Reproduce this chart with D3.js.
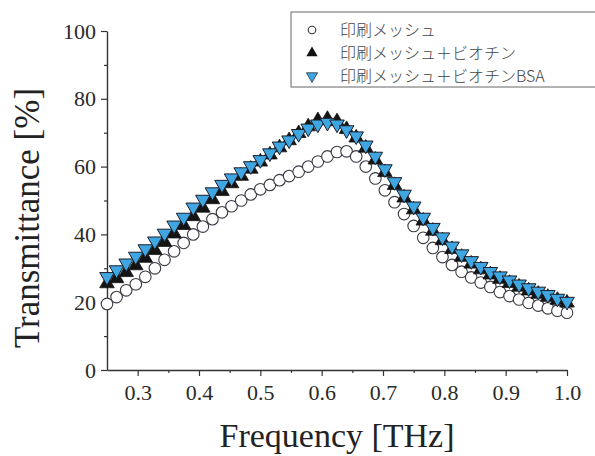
<!DOCTYPE html>
<html><head><meta charset="utf-8">
<script src="https://cdn.jsdelivr.net/npm/d3@7"></script>
<style>
html,body{margin:0;padding:0;background:#fff;}
svg{display:block;}
</style></head>
<body>
<svg id="chart" width="595" height="456"></svg>
<script>
const freq = [0.25,0.2656,0.2813,0.2969,0.3125,0.3281,0.3438,0.3594,0.375,0.3906,0.4063,0.4219,0.4375,0.4531,0.4688,0.4844,0.5,0.5156,0.5313,0.5469,0.5625,0.5781,0.5938,0.6094,0.625,0.6406,0.6563,0.6719,0.6875,0.7031,0.7188,0.7344,0.75,0.7656,0.7813,0.7969,0.8125,0.8281,0.8438,0.8594,0.875,0.8906,0.9063,0.9219,0.9375,0.9531,0.9688,0.9844,1.0];
const meshValues = [19.5,21.5,23.5,25.3,27.5,30,32.5,35,37.5,40,42.3,44.5,46.5,48.3,50,51.8,53.3,54.6,56,57.2,58.5,60,61.5,63,64.3,64.5,63,60,56.5,53,49.5,46,42.5,39,36,33.3,31,29,27.3,25.8,24.5,23,21.8,20.8,19.8,19,18.2,17.5,16.9];
const biotinValues = [25.5,27,28.8,30.8,33,35.3,37.7,40.2,42.7,45.3,47.8,50.3,52.7,55,57.2,59.3,61.4,63.5,65.6,67.7,69.8,71.8,73.6,74,73.3,71,68.5,65.5,62,58.3,54.5,50.8,47.3,44,41,38.2,35.6,33.3,31.3,29.6,28.1,26.8,25.6,24.5,23.4,22.4,21.5,20.6,19.8];
const bsaValues = [27.5,29.5,31.5,33.5,35.7,38,40.3,42.7,45,48,50.3,52.5,54.7,56.6,58.4,60.2,62,64,66,67.8,69.7,71.3,72.5,73,72.5,70.8,69,66.3,63,59.3,55.5,51.8,48.3,45,42,39.2,36.5,34.2,32.2,30.5,29,27.7,26.5,25.3,24.2,23.2,22.2,21.1,20.2];
const legendLabels = ["印刷メッシュ","印刷メッシュ＋ビオチン","印刷メッシュ＋ビオチンBSA"];
const xMajorTicks = [0.3,0.4,0.5,0.6,0.7,0.8,0.9,1.0];
const xMinorTicks = [0.35,0.45,0.55,0.65,0.75,0.85,0.95];
const yMajorTicks = [0,20,40,60,80,100];
const yMinorTicks = [10,30,50,70,90];
const xTitle = "Frequency [THz]";
const yTitle = "Transmittance [%]";

const svg = d3.select("#chart");
const x = d3.scaleLinear().domain([0.25,1.0]).range([107,567]);
const y = d3.scaleLinear().domain([0,100]).range([370,31]);
const axisColor = "#333";
const serif = "Liberation Serif";

// x axis
const gx = svg.append("g").attr("transform",`translate(0,${y(0)})`);
gx.call(d3.axisBottom(x).tickValues(xMajorTicks).tickFormat(d3.format(".1f")).tickSize(6).tickPadding(8).tickSizeOuter(0));
gx.append("g").call(d3.axisBottom(x).tickValues(xMinorTicks).tickFormat("").tickSize(3).tickSizeOuter(0)).select(".domain").remove();
// y axis
const gy = svg.append("g").attr("transform",`translate(${x(0.25)},0)`);
gy.call(d3.axisLeft(y).tickValues(yMajorTicks).tickFormat(d3.format("d")).tickSize(6).tickPadding(5).tickSizeOuter(0));
gy.append("g").call(d3.axisLeft(y).tickValues(yMinorTicks).tickFormat("").tickSize(3).tickSizeOuter(0)).select(".domain").remove();

gx.attr("font-family",serif).attr("font-size",22);
gy.attr("font-family",serif).attr("font-size",22);
svg.selectAll(".domain").attr("stroke",axisColor).attr("stroke-width",1.4);
svg.selectAll(".tick line").attr("stroke",axisColor).attr("stroke-width",1.2);
svg.selectAll(".tick text").attr("font-family",serif).attr("font-size",22).attr("fill","#2a2a2a");

// titles
svg.append("text").attr("x",(x(0.25)+x(1.0))/2).attr("y",447).attr("text-anchor","middle")
  .attr("font-family",serif).attr("font-size",34).attr("fill","#222").text(xTitle);
svg.append("text").attr("transform",`translate(39,218) rotate(-90)`).attr("text-anchor","middle")
  .attr("font-family",serif).attr("font-size",35).attr("fill","#222").text(yTitle);

// data
const meshData = freq.map((f,i)=>({f,v:meshValues[i]}));
const biotinData = freq.map((f,i)=>({f,v:biotinValues[i]}));
const bsaData = freq.map((f,i)=>({f,v:bsaValues[i]}));
const triUp = d3.symbol().type(d3.symbolTriangle).size(92);

svg.append("g").selectAll("circle").data(meshData).join("circle")
  .attr("cx",d=>x(d.f)).attr("cy",d=>y(d.v)).attr("r",5.8)
  .attr("fill","#fff").attr("stroke","#3a3a44").attr("stroke-width",1.1);
svg.append("g").selectAll("path").data(biotinData).join("path")
  .attr("d",triUp).attr("transform",d=>`translate(${x(d.f)},${y(d.v)})`)
  .attr("fill","#141414").attr("stroke","#141414").attr("stroke-width",0.8);
svg.append("g").selectAll("path").data(bsaData).join("path")
  .attr("d",triUp).attr("transform",d=>`translate(${x(d.f)},${y(d.v)}) rotate(180)`)
  .attr("fill","#3fa6e2").attr("stroke","#1b1f2a").attr("stroke-width",1);

// legend
const lg = svg.append("g");
lg.append("rect").attr("x",291).attr("y",12).attr("width",310).attr("height",75)
  .attr("fill","#fff").attr("stroke","#666").attr("stroke-width",1);
const rowY = [30,53,76];
const symX = 312;
lg.append("circle").attr("cx",symX).attr("cy",rowY[0]).attr("r",3.8).attr("fill","#fff").attr("stroke","#333").attr("stroke-width",1.1);
lg.append("path").attr("d",d3.symbol().type(d3.symbolTriangle).size(55)).attr("transform",`translate(${symX},${rowY[1]})`).attr("fill","#141414");
lg.append("path").attr("d",d3.symbol().type(d3.symbolTriangle).size(55)).attr("transform",`translate(${symX},${rowY[2]}) rotate(180)`).attr("fill","#3fa6e2").attr("stroke","#1b1f2a").attr("stroke-width",0.7);
lg.selectAll("text").data(legendLabels).join("text")
  .attr("x",340).attr("y",(d,i)=>rowY[i]).attr("dy","0.36em")
  .attr("font-family","Noto Sans CJK JP").attr("font-weight",300).attr("font-size",16).attr("fill","#444")
  .text(d=>d);
</script>
</body></html>
